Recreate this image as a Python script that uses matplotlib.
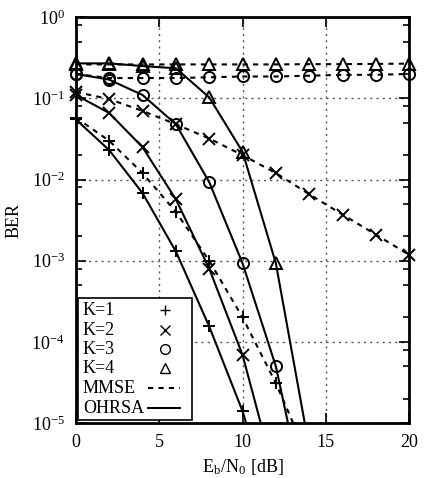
import numpy as np
import matplotlib
matplotlib.use("Agg")
import matplotlib.pyplot as plt
from matplotlib.patches import Rectangle
from matplotlib.ticker import LogLocator, NullFormatter

plt.rcParams["font.family"] = ["Liberation Serif", "DejaVu Serif"]
plt.rcParams["mathtext.fontset"] = "stix"

snr = [0, 2, 4, 6, 8, 10, 12, 14, 16, 18, 20]

# MMSE (dashed)
mmse_k1 = [0.058, 0.030, 0.012, 0.0040, 0.0010, 2.0e-4, 3.1e-5, 3.5e-6]
mmse_k2 = [0.12, 0.098, 0.070, 0.048, 0.032, 0.020, 0.012, 0.0066, 0.0037, 0.0021, 0.00118]
mmse_k3 = [0.200, 0.178, 0.178, 0.178, 0.182, 0.186, 0.186, 0.19, 0.195, 0.195, 0.200]
mmse_k4 = [0.262, 0.262, 0.262, 0.262, 0.262, 0.262, 0.262, 0.264, 0.264, 0.266, 0.268]

# OHRSA (solid)
ohrsa_k1 = [0.055, 0.023, 0.0068, 0.0013, 1.55e-4, 1.4e-5, 6e-7]
ohrsa_k2 = [0.11, 0.066, 0.025, 0.0057, 8.0e-4, 6.9e-5, 2.0e-6]
ohrsa_k3 = [0.20, 0.17, 0.11, 0.048, 0.0093, 9.3e-4, 5.0e-5, 6e-7]
ohrsa_k4 = [0.27, 0.27, 0.25, 0.235, 0.103, 0.022, 9.3e-4, 5e-6]

markers = ["+", "x", "o", "^"]
labels = ["K=1", "K=2", "K=3", "K=4"]
YMIN, YMAX = 1e-5, 1

fig = plt.figure(figsize=(4.24, 4.78), dpi=100)
ax = fig.add_axes([0.179, 0.115, 0.786, 0.849])

dash = (0, (2.5, 2.5))
mk = dict(ls="none", ms=8, mfc="none", mec="black", mew=1.4, clip_on=False, zorder=3)


def draw(ys, m, ls):
    x = np.array(snr[:len(ys)], dtype=float)
    y = np.array(ys)
    ax.plot(x, y, color="black", ls=ls, lw=1.5)
    keep = y >= YMIN
    ax.plot(x[keep], y[keep], marker=m, **mk)


for ys, m in zip([mmse_k1, mmse_k2, mmse_k3, mmse_k4], markers):
    draw(ys, m, dash)
for ys, m in zip([ohrsa_k1, ohrsa_k2, ohrsa_k3, ohrsa_k4], markers):
    draw(ys, m, "-")

ax.set_yscale("log")
ax.set_xlim(0, 20)
ax.set_ylim(YMIN, YMAX)
ax.set_xticks([0, 5, 10, 15, 20])
ax.yaxis.set_major_locator(LogLocator(base=10, numticks=10))
ax.yaxis.set_minor_locator(LogLocator(base=10, subs=(2, 5, 8), numticks=10))
ax.yaxis.set_minor_formatter(NullFormatter())
ax.tick_params(which="both", direction="in", top=True, right=True, labelsize=13)
ax.tick_params(which="major", length=7, width=1.2)
ax.tick_params(which="minor", length=4, width=1.2)
ax.tick_params(axis="x", which="major", pad=8)
ax.tick_params(axis="y", which="major", pad=8)
for s in ax.spines.values():
    s.set_linewidth(2)
    s.set_zorder(4)
ax.grid(True, which="major", ls=(0, (1.5, 3)), color="#555555", lw=1)

ax.set_xlabel(r"E$_\mathregular{b}$/N$_\mathregular{0}$ [dB]", fontsize=13)
ax.set_ylabel("BER", fontsize=13)
ax.xaxis.set_label_coords(0.5, -0.084)
ax.yaxis.set_label_coords(-0.16, 0.5)

# gnuplot-style key: text on the left, sample on the right
tr = ax.transAxes
ax.add_patch(Rectangle((0.006, 0.007), 0.342, 0.301, transform=tr, facecolor="white",
                       edgecolor="black", lw=1.2, zorder=5))
rows = [0.278, 0.229, 0.182, 0.135, 0.086, 0.037]
for yy, lab, m in zip(rows[:4], labels, markers):
    ax.text(0.021, yy, lab, transform=tr, fontsize=13, va="center", ha="left", zorder=6)
    ax.plot([0.267], [yy], transform=tr, marker=m, color="black", mfc="none",
            ms=7, mew=1, ls="none", clip_on=False, zorder=6)
for yy, lab, ls in zip(rows[4:], ["MMSE", "OHRSA"], [dash, "-"]):
    ax.text(0.021, yy, lab, transform=tr, fontsize=13, va="center", ha="left", zorder=6)
    ax.plot([0.216, 0.312], [yy, yy], transform=tr, color="black", ls=ls, lw=1.5,
            clip_on=False, zorder=6)

fig.savefig("out.png", dpi=100)
